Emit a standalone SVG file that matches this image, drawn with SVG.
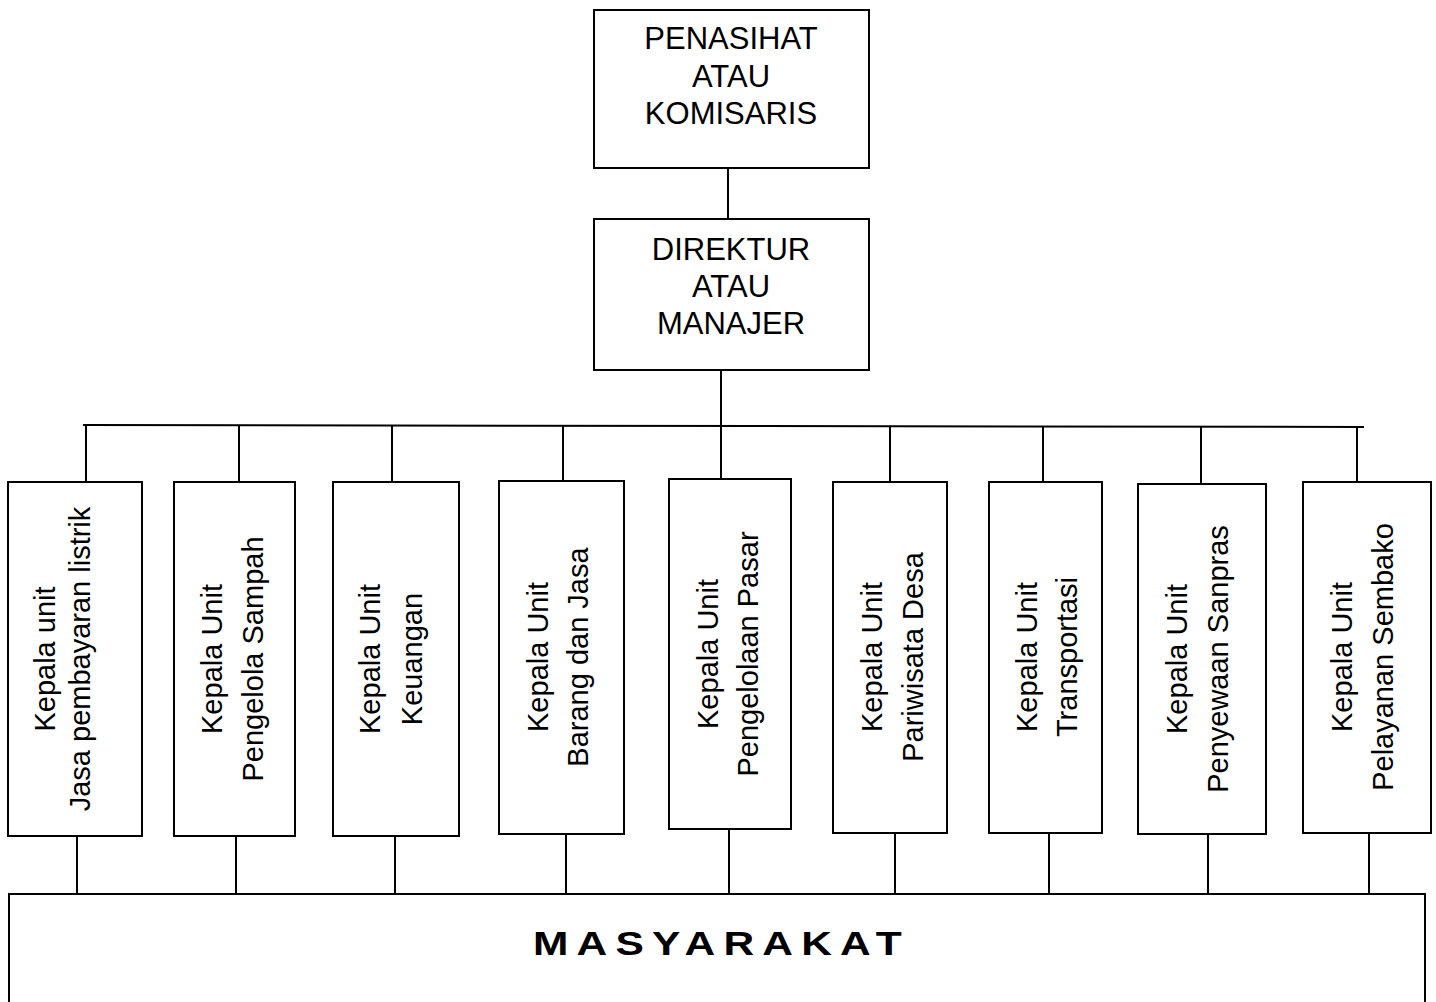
<svg xmlns="http://www.w3.org/2000/svg" width="1436" height="1002" viewBox="0 0 1436 1002">
<style>
.box{fill:#fff;stroke:#000;stroke-width:2}
.ln{stroke:#000;stroke-width:2;fill:none}
.t{font-family:"Liberation Sans",Arial,sans-serif;font-size:31px;fill:#000;text-anchor:middle}
.u{font-family:"Liberation Sans",Arial,sans-serif;font-size:29px;fill:#000;text-anchor:middle}
.m{font-family:"Liberation Sans",Arial,sans-serif;font-size:34px;font-weight:bold;fill:#000}
</style>
<rect width="1436" height="1002" fill="#fff"/>
<g id="connectors">
<line class="ln" x1="728" y1="168" x2="728" y2="219"/>
<line class="ln" x1="721" y1="370" x2="721" y2="479"/>
<line class="ln" x1="83" y1="425" x2="1364" y2="427"/>
<line class="ln" x1="86" y1="425" x2="86" y2="482"/>
<line class="ln" x1="239" y1="425" x2="239" y2="482"/>
<line class="ln" x1="392" y1="425" x2="392" y2="482"/>
<line class="ln" x1="563" y1="426" x2="563" y2="481"/>
<line class="ln" x1="890" y1="426" x2="890" y2="482"/>
<line class="ln" x1="1043" y1="426" x2="1043" y2="482"/>
<line class="ln" x1="1201" y1="427" x2="1201" y2="484"/>
<line class="ln" x1="1357" y1="427" x2="1357" y2="482"/>
<line class="ln" x1="77" y1="836" x2="77" y2="894"/>
<line class="ln" x1="236" y1="836" x2="236" y2="894"/>
<line class="ln" x1="395" y1="836" x2="395" y2="894"/>
<line class="ln" x1="566" y1="833" x2="566" y2="894"/>
<line class="ln" x1="729" y1="829" x2="729" y2="894"/>
<line class="ln" x1="895" y1="832" x2="895" y2="894"/>
<line class="ln" x1="1049" y1="832" x2="1049" y2="894"/>
<line class="ln" x1="1208" y1="834" x2="1208" y2="894"/>
<line class="ln" x1="1369" y1="832" x2="1369" y2="894"/>
</g>
<g id="penasihat">
<rect class="box" x="594" y="10" width="275" height="158"/>
<text class="t" x="731" y="49">PENASIHAT</text>
<text class="t" x="731" y="87">ATAU</text>
<text class="t" x="731" y="124">KOMISARIS</text>
</g>
<g id="direktur">
<rect class="box" x="594" y="219" width="275" height="151"/>
<text class="t" x="731" y="260">DIREKTUR</text>
<text class="t" x="731" y="297">ATAU</text>
<text class="t" x="731" y="334">MANAJER</text>
</g>
<g id="unit1">
<rect class="box" x="8" y="482" width="134" height="354"/>
<g transform="translate(0,659) rotate(-90)"><text class="u" x="0" y="55">Kepala unit</text><text class="u" x="0" y="90">Jasa pembayaran listrik</text></g>
</g>
<g id="unit2">
<rect class="box" x="174" y="482" width="121" height="354"/>
<g transform="translate(0,659) rotate(-90)"><text class="u" x="0" y="222">Kepala Unit</text><text class="u" x="0" y="263">Pengelola Sampah</text></g>
</g>
<g id="unit3">
<rect class="box" x="333" y="482" width="126" height="354"/>
<g transform="translate(0,659) rotate(-90)"><text class="u" x="0" y="380">Kepala Unit</text><text class="u" x="0" y="422">Keuangan</text></g>
</g>
<g id="unit4">
<rect class="box" x="499" y="481" width="125" height="353"/>
<g transform="translate(0,657) rotate(-90)"><text class="u" x="0" y="548">Kepala Unit</text><text class="u" x="0" y="588">Barang dan Jasa</text></g>
</g>
<g id="unit5">
<rect class="box" x="669" y="479" width="122" height="350"/>
<g transform="translate(0,654) rotate(-90)"><text class="u" x="0" y="718">Kepala Unit</text><text class="u" x="0" y="758">Pengelolaan Pasar</text></g>
</g>
<g id="unit6">
<rect class="box" x="833" y="482" width="114" height="351"/>
<g transform="translate(0,657) rotate(-90)"><text class="u" x="0" y="882">Kepala Unit</text><text class="u" x="0" y="923">Pariwisata Desa</text></g>
</g>
<g id="unit7">
<rect class="box" x="989" y="482" width="113" height="351"/>
<g transform="translate(0,657) rotate(-90)"><text class="u" x="0" y="1037">Kepala Unit</text><text class="u" x="0" y="1077">Transportasi</text></g>
</g>
<g id="unit8">
<rect class="box" x="1138" y="484" width="128" height="350"/>
<g transform="translate(0,659) rotate(-90)"><text class="u" x="0" y="1187">Kepala Unit</text><text class="u" x="0" y="1228">Penyewaan Sanpras</text></g>
</g>
<g id="unit9">
<rect class="box" x="1303" y="482" width="128" height="351"/>
<g transform="translate(0,657) rotate(-90)"><text class="u" x="0" y="1352">Kepala Unit</text><text class="u" x="0" y="1393">Pelayanan Sembako</text></g>
</g>
<g id="masyarakat">
<rect class="box" x="9" y="894" width="1416" height="130"/>
<text class="m" transform="translate(533,955) scale(1.25,1)" x="0" y="0" textLength="295" lengthAdjust="spacing">MASYARAKAT</text>
</g>
</svg>
